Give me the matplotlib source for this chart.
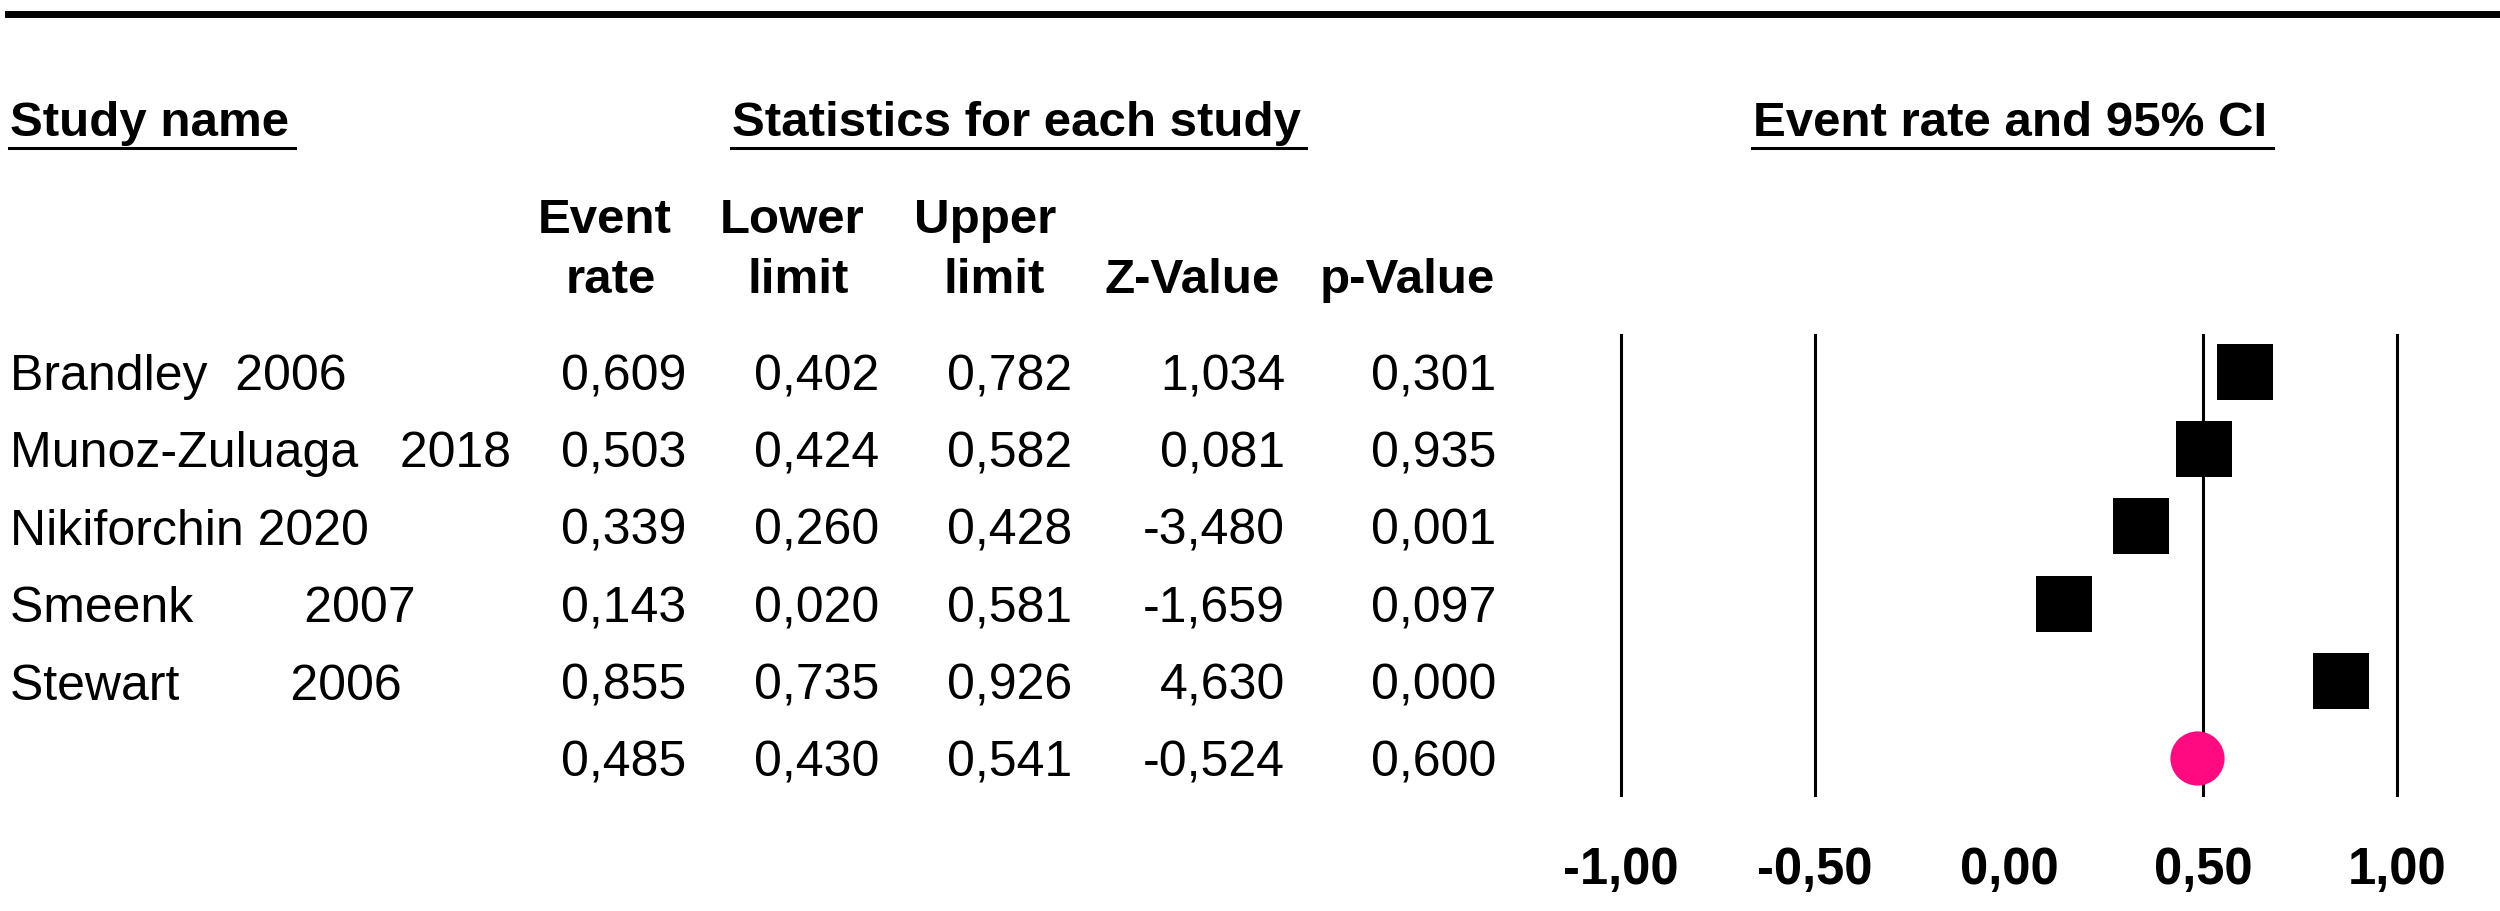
import matplotlib
matplotlib.use("Agg")
import matplotlib.pyplot as plt
from matplotlib.lines import Line2D
from matplotlib.transforms import blended_transform_factory

plt.rcParams['font.family'] = ['Liberation Sans', 'DejaVu Sans']

# Study data
study_names = ['Brandley  2006', 'Munoz-Zuluaga   2018', 'Nikiforchin 2020',
               'Smeenk        2007', 'Stewart        2006']
event_rate = [0.609, 0.503, 0.339, 0.143, 0.855]
lower_limit = [0.402, 0.424, 0.260, 0.020, 0.735]
upper_limit = [0.782, 0.582, 0.428, 0.581, 0.926]
z_value = [1.034, 0.081, -3.480, -1.659, 4.630]
p_value = [0.301, 0.935, 0.001, 0.097, 0.000]

# Pooled (summary) row
pooled = [0.485, 0.430, 0.541, -0.524, 0.600]

ref_lines = [-1.0, -0.5, 0.5, 1.0]
x_ticks = [-1.0, -0.5, 0.0, 0.5, 1.0]

W, H = 2500, 911
FS = 36     # table body
FSH = 35.5  # headers / tick labels


def fx(px):
    return px / W


def fy(py):
    return 1 - py / H


def fmt(v, nd=3):
    return f"{v:.{nd}f}".replace('.', ',')


fig = plt.figure(figsize=(W / 100, H / 100), dpi=100)

# forest plot axes
ax = fig.add_axes([fx(1543), fy(797), fx(2475) - fx(1543), fy(334) - fy(797)])
ax.set_xlim(-1.201, 1.201)
ax.set_ylim(5.5, -0.485)
for s in ax.spines.values():
    s.set_visible(False)
for v in ref_lines:
    ax.axvline(v, color='black', lw=2.2, zorder=1)
rows = list(range(len(study_names)))
ax.plot(event_rate, rows, 's', ms=41, color='black', mew=0, zorder=3)
ax.plot([pooled[0]], [len(study_names)], 'o', ms=39, color='#ff0a80', mew=0, zorder=3)
ax.set_yticks([])
ax.set_xticks(x_ticks)
ax.set_xticklabels([fmt(v, 2) for v in x_ticks], fontsize=FSH + 1, fontweight='bold')
ax.tick_params(axis='x', length=0, pad=35)

# table text
trans = blended_transform_factory(fig.transFigure, ax.transData)
col_right = [686, 879, 1072, 1285, 1496]
table = list(zip(event_rate, lower_limit, upper_limit, z_value, p_value))
for i, name in enumerate(study_names):
    fig.text(fx(10), i + 0.24, name, transform=trans, fontsize=FS, va='baseline')
    for xr, v in zip(col_right, table[i]):
        fig.text(fx(xr), i + 0.24, fmt(v), transform=trans, fontsize=FS,
                 va='baseline', ha='right')
for xr, v in zip(col_right, pooled):
    fig.text(fx(xr), len(study_names) + 0.24, fmt(v), transform=trans,
             fontsize=FS, va='baseline', ha='right')

# headers
h1 = fig.text(fx(10), fy(136), 'Study name', fontsize=FSH, fontweight='bold', va='baseline')
h2 = fig.text(fx(1016), fy(136), 'Statistics for each study', fontsize=FSH,
              fontweight='bold', va='baseline', ha='center')
h3 = fig.text(fx(2010), fy(136), 'Event rate and 95% CI', fontsize=FSH,
              fontweight='bold', va='baseline', ha='center')

col_heads = [('Event', 'rate', 605, 611), ('Lower', 'limit', 792, 798),
             ('Upper', 'limit', 985, 994), ('', 'Z-Value', 0, 1192),
             ('', 'p-Value', 0, 1407)]
for top, bot, xt, xb in col_heads:
    if top:
        fig.text(fx(xt), fy(233), top, fontsize=FSH, fontweight='bold',
                 va='baseline', ha='center')
    fig.text(fx(xb), fy(293), bot, fontsize=FSH, fontweight='bold',
             va='baseline', ha='center')

# underlines and top rule
fig.canvas.draw()
r = fig.canvas.get_renderer()
for t in (h1, h2, h3):
    bb = t.get_window_extent(r)
    fig.add_artist(Line2D([fx(bb.x0 - 1), fx(bb.x1 + 6)], [fy(148), fy(148)],
                          transform=fig.transFigure, color='black', lw=2.2))
fig.add_artist(Line2D([fx(8), 1.0], [fy(14), fy(14)], transform=fig.transFigure,
                      color='black', lw=5))

fig.savefig('out.png', dpi=100)
